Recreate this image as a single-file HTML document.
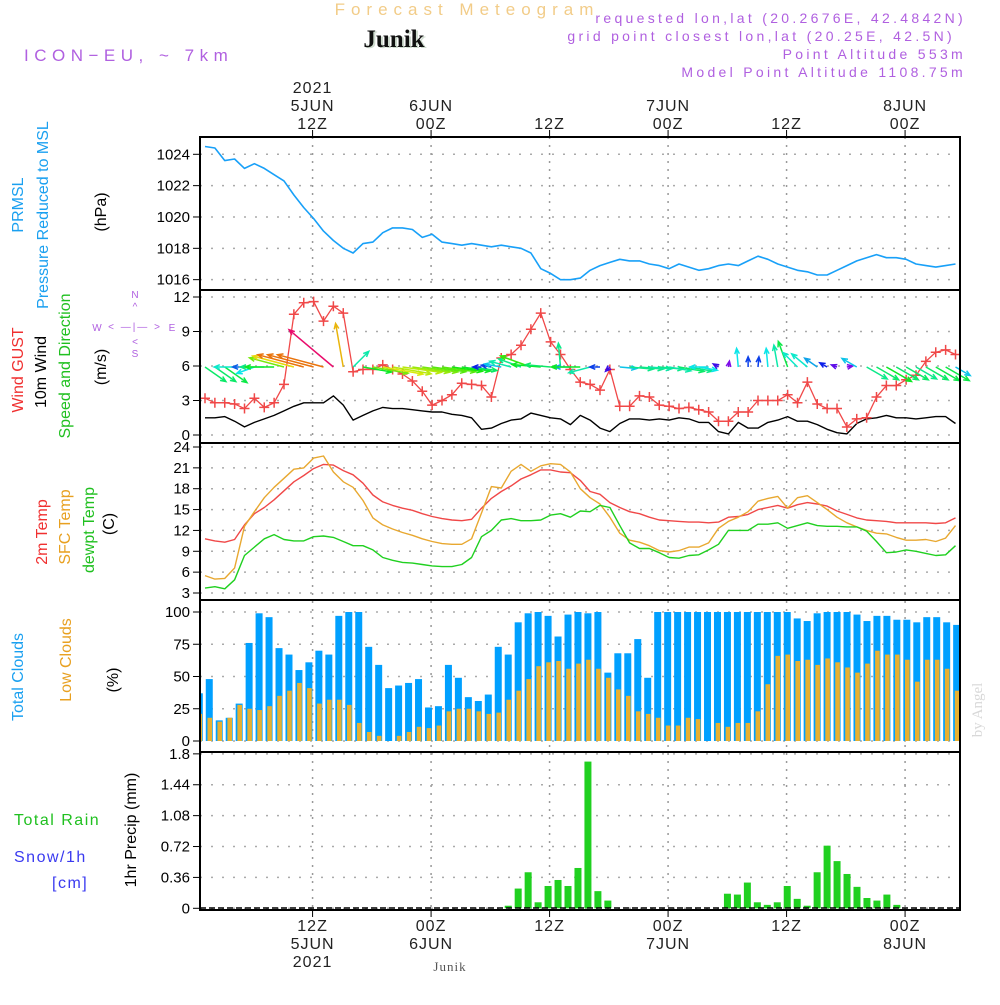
<!DOCTYPE html>
<html><head><meta charset="utf-8"><style>
html,body{margin:0;padding:0;background:#fff;}
svg text{font-family:"Liberation Sans",sans-serif;}
</style></head><body>
<svg id="chart" xmlns="http://www.w3.org/2000/svg" width="1000" height="1000" viewBox="0 0 1000 1000">
<rect x="0" y="0" width="1000" height="1000" fill="#fff"/>
<text x="467" y="15" text-anchor="middle" font-size="17" fill="#f2cc88" letter-spacing="6">Forecast Meteogram</text>
<text x="396" y="48" text-anchor="middle" font-size="25" font-weight="bold" fill="#cfdccf" style="font-family:'Liberation Serif',serif">Junik</text>
<text x="394" y="47" text-anchor="middle" font-size="25" font-weight="bold" fill="#111" style="font-family:'Liberation Serif',serif">Junik</text>
<text x="24" y="61" font-size="17" fill="#b060e0" letter-spacing="5.5">ICON−EU, ~ 7km</text>
<g font-size="14" fill="#b060e0" text-anchor="end" letter-spacing="3.3">
<text x="966" y="23">requested lon,lat (20.2676E, 42.4842N)</text>
<text x="955" y="41">grid point closest lon,lat (20.25E, 42.5N)</text>
<text x="966" y="59">Point Altitude 553m</text>
<text x="966" y="77">Model Point Altitude 1108.75m</text>
</g>
<g id="grid"></g>
<g id="marks"></g>
<g id="frames"></g>
<g id="labels"></g>
<g font-size="16">
<text transform="translate(23,205) rotate(-90)" text-anchor="middle" fill="#1aa0f0">PRMSL</text>
<text transform="translate(48,215) rotate(-90)" text-anchor="middle" fill="#1aa0f0">Pressure Reduced to MSL</text>
<text transform="translate(106,212) rotate(-90)" text-anchor="middle" fill="#000">(hPa)</text>
<text transform="translate(23,370) rotate(-90)" text-anchor="middle" fill="#f03030">Wind GUST</text>
<text transform="translate(46,372) rotate(-90)" text-anchor="middle" fill="#000">10m Wind</text>
<text transform="translate(70,366) rotate(-90)" text-anchor="middle" fill="#20c020">Speed and Direction</text>
<text transform="translate(106,367) rotate(-90)" text-anchor="middle" fill="#000">(m/s)</text>
<text transform="translate(47,532) rotate(-90)" text-anchor="middle" fill="#f03030">2m Temp</text>
<text transform="translate(70,527) rotate(-90)" text-anchor="middle" fill="#e8a020">SFC Temp</text>
<text transform="translate(94,530) rotate(-90)" text-anchor="middle" fill="#20c020">dewpt Temp</text>
<text transform="translate(114,524) rotate(-90)" text-anchor="middle" fill="#000">(C)</text>
<text transform="translate(23,677) rotate(-90)" text-anchor="middle" fill="#1aa0f0">Total Clouds</text>
<text transform="translate(71,660) rotate(-90)" text-anchor="middle" fill="#e8a020">Low Clouds</text>
<text transform="translate(118,680) rotate(-90)" text-anchor="middle" fill="#000">(%)</text>
<text x="14" y="825" fill="#20c020" letter-spacing="1.5">Total  Rain</text>
<text x="14" y="862" fill="#3a3af0" letter-spacing="1.5">Snow/1h</text>
<text x="52" y="888" fill="#3a3af0" letter-spacing="1.5">[cm]</text>
<text transform="translate(136,830) rotate(-90)" text-anchor="middle" fill="#000">1hr Precip (mm)</text>
</g>
<g font-size="10" fill="#b060e0" text-anchor="middle">
<text x="135" y="298">N</text><text x="135" y="310">^</text>
<text x="97" y="331">W</text><text x="135" y="330" letter-spacing="2">&lt; —|— &gt;</text>
<text x="172" y="331">E</text>
<text x="135" y="345">&lt;</text><text x="135" y="357">S</text>
</g>
<text transform="translate(982,710) rotate(-90)" text-anchor="middle" font-size="15" fill="#d8d8d8" style="font-family:'Liberation Serif',serif">by Angel</text>
<text x="450" y="971" text-anchor="middle" font-size="13" fill="#555" style="font-family:'Liberation Serif',serif" letter-spacing="1">Junik</text>
</svg>
<script>
// ---- data (hourly, starting 5JUN ~01Z) ----
var pressure=[1024.5,1024.4,1023.6,1023.7,1023.1,1023.4,1023.1,1022.7,1022.3,1021.4,
1020.6,1019.9,1019.1,1018.5,1018.0,1017.7,1018.3,1018.4,1019.0,1019.3,
1019.3,1019.2,1018.7,1018.9,1018.4,1018.3,1018.2,1018.3,1018.2,1018.1,
1018.2,1018.1,1018.0,1017.7,1016.7,1016.4,1016.0,1016.0,1016.1,1016.6,
1016.9,1017.1,1017.3,1017.2,1017.2,1017.0,1016.9,1016.7,1017.0,1016.8,
1016.6,1016.7,1016.9,1017.0,1016.9,1017.2,1017.5,1017.3,1017.0,1016.8,
1016.6,1016.5,1016.3,1016.3,1016.6,1016.9,1017.2,1017.4,1017.6,1017.4,
1017.4,1017.3,1017.0,1016.9,1016.8,1016.9,1017.0];
var windGust=[3.2,2.8,2.8,2.7,2.3,3.2,2.4,2.8,4.4,10.5,
11.5,11.6,9.9,11.2,10.6,5.5,5.7,5.7,6.1,5.7,
5.3,4.7,3.8,2.6,3.0,3.5,4.5,4.4,4.3,3.3,
6.7,7.0,7.8,9.2,10.6,8.1,7.0,5.7,4.6,4.4,
3.9,5.7,2.5,2.5,3.4,3.3,2.6,2.5,2.3,2.4,
2.2,2.0,1.2,1.2,2.0,2.0,3.0,3.0,3.0,3.5,
2.8,4.6,2.7,2.3,2.3,0.7,1.4,1.5,3.3,4.3,
4.3,4.8,5.2,6.4,7.2,7.4,7.0];
var wind10=[1.5,1.5,1.6,1.2,0.7,1.1,1.4,1.7,2.1,2.5,
2.8,2.8,2.8,3.4,2.6,1.3,1.7,2.1,2.4,2.3,
2.3,2.2,2.1,2.0,2.0,1.8,1.7,1.5,0.5,0.6,
1.0,1.3,1.4,1.9,1.7,1.5,1.4,0.9,1.7,1.3,
0.6,0.3,1.0,1.4,1.4,1.3,1.4,1.3,1.5,1.4,
1.1,1.1,0.3,0.1,1.1,0.6,0.6,1.1,1.3,1.6,
1.2,1.2,0.9,0.5,0.2,0.1,1.0,1.4,1.5,1.7,
1.5,1.5,1.4,1.5,1.6,1.6,1.0];
var windToDeg=[-35,-35,-35,180,180,200,180,180,165,165,
165,165,165,140,100,45,-10,-10,-10,-10,
-8,-8,-8,-8,-8,-8,-8,-8,180,170,
170,165,160,160,175,175,95,180,180,195,
180,225,-5,-5,-5,-5,-5,-10,-10,-10,
-10,180,150,80,95,90,85,95,100,110,
135,140,145,150,160,10,150,-30,-30,-30,
-30,-30,-30,-30,-30,-30,-30];
var temp2m=[10.8,10.5,10.3,10.7,12.8,14.4,15.3,16.4,17.7,19.0,
19.9,20.9,21.5,21.4,20.6,20.0,18.8,17.1,16.1,15.6,
15.2,14.9,14.4,14.0,13.7,13.5,13.4,13.6,15.2,16.6,
17.6,18.4,19.4,20.0,20.7,20.7,20.4,20.3,19.2,
17.6,17.2,16.0,15.3,14.7,14.4,13.9,13.5,13.4,13.3,
13.2,13.2,13.1,13.2,13.9,14.0,14.3,15.0,15.3,15.6,
15.2,15.7,16.0,15.8,15.5,14.8,14.3,13.8,13.5,13.4,
13.3,13.1,13.1,13.1,13.1,13.0,13.1,13.8];
var tempSfc=[5.5,5.0,5.1,6.6,12.6,14.7,16.7,18.2,19.5,20.8,
21.0,22.4,22.7,20.4,19.0,18.2,16.3,13.8,12.8,12.2,
11.7,11.3,10.8,10.4,10.1,10.0,10.0,10.8,14.5,18.3,
18.1,20.5,21.5,20.5,21.3,21.6,21.5,20.4,18.0,
16.7,15.8,13.9,11.6,10.6,10.3,9.8,9.1,8.9,9.1,
9.6,9.6,10.2,12.3,13.3,13.9,14.7,16.2,16.6,16.9,
15.2,16.7,17.0,16.0,15.0,13.9,13.1,12.5,12.0,11.6,
11.5,11.0,10.6,10.6,10.7,10.4,10.9,12.7];
var tempDew=[3.7,3.9,3.6,4.9,8.4,9.6,10.8,11.4,10.7,10.5,
10.5,11.1,11.2,11.0,10.4,9.8,9.8,9.2,8.1,7.7,
7.4,7.3,7.1,6.9,6.8,6.8,7.1,8.1,11.1,12.0,
13.5,13.7,13.4,13.4,13.5,14.2,14.4,13.9,14.8,
14.7,15.6,15.3,12.7,10.2,9.4,9.4,8.8,8.1,8.0,
8.4,8.5,9.2,10.0,12.0,12.0,12.0,12.9,12.9,13.1,
12.3,12.7,13.1,12.7,12.6,12.6,12.5,12.5,11.9,10.4,
8.8,8.9,9.2,9.0,8.7,8.4,8.5,9.8];
var totalClouds=[37,48,16,18,29,76,99,96,72,67,
55,61,70,67,97,100,100,73,59,41,
43,45,48,26,27,59,49,34,31,36,
73,67,92,99,100,97,81,98,100,
99,100,53,68,68,79,49,100,100,100,
100,100,100,100,100,100,100,100,100,100,
100,95,93,99,100,100,100,98,93,97,
97,94,94,92,96,96,92,90];
var lowClouds=[21,18,15,18,28,25,24,27,35,39,
45,41,29,32,32,28,14,7,4,0,
4,7,11,10,12,23,25,25,23,21,
22,32,39,48,58,61,62,56,60,
63,56,49,40,35,23,21,18,12,12,
18,17,0,14,11,14,14,23,44,66,
67,62,63,59,64,61,57,53,60,70,
67,67,63,46,63,63,56,39];
var precip=[0,0,0,0,0,0,0,0,0,0,
0,0,0,0,0,0,0,0,0,0,
0,0,0,0,0,0,0,0,0,0,
0,0.03,0.23,0.42,0.07,0.26,0.33,0.26,0.47,1.71,
0.20,0.09,0,0,0,0,0,0,0,0,
0,0,0,0.17,0.16,0.30,0.07,0.04,0.07,0.26,
0.11,0.03,0.42,0.73,0.55,0.40,0.25,0.12,0.09,0.16,
0.04,0,0,0,0,0,0];
var pressTicks=[1016,1018,1020,1022,1024];
var windTicks=[0,3,6,9,12];
var tempTicks=[3,6,9,12,15,18,21,24];
var cloudTicks=[0,25,50,75,100];
var precipTicks=["0","0.36","0.72","1.08","1.44","1.8"];
var timeTickHours=[11.4,23.4,35.4,47.4,59.4,71.4];
var topTimeLabels=[["2021","5JUN","12Z"],["","6JUN","00Z"],["","","12Z"],["","7JUN","00Z"],["","","12Z"],["","8JUN","00Z"]];
var bottomTimeLabels=[["12Z","5JUN","2021"],["00Z","6JUN",""],["12Z","",""],["00Z","7JUN",""],["12Z","",""],["00Z","8JUN",""]];

// ---- scales ----
var X0=200,X1=960;
function xLine(i){return 205+9.875*i;}
function xBar(i){return 199.3+9.965*i;}
function xHour(h){return 200+9.875*h;}
function yP(v){return 154.3+(1024-v)*15.67;}
function yW(v){return 435-v*11.5;}
function yT(v){return 447+(24-v)*6.952;}
function yC(v){return 741-v*1.29;}
function yR(v){return 908.3-v*85.8;}
var panels=[[137,290],[290,443],[443,600],[600,752],[752,910]];

var NS="http://www.w3.org/2000/svg";
function mk(tag,attrs,parent){var e=document.createElementNS(NS,tag);for(var k in attrs)e.setAttribute(k,attrs[k]);parent.appendChild(e);return e;}
var grid=document.getElementById('grid'),marks=document.getElementById('marks'),frames=document.getElementById('frames'),labels=document.getElementById('labels');

function hgrid(y,name){var l=mk('line',{x1:X0,x2:X1,y1:y,y2:y,stroke:'#aaa','stroke-width':1.5,'stroke-dasharray':'2,9'},grid);

}
pressTicks.forEach(function(v){hgrid(yP(v),'pressure-gridline');});
windTicks.forEach(function(v){hgrid(yW(v),'wind-gridline');});
tempTicks.forEach(function(v){hgrid(yT(v),'temp-gridline');});
cloudTicks.forEach(function(v){hgrid(yC(v),'cloud-gridline');});
precipTicks.forEach(function(v){hgrid(yR(+v),'precip-gridline');});
timeTickHours.forEach(function(h){var x=xHour(h);
 var l=mk('line',{x1:x,x2:x,y1:137,y2:910,stroke:'#999','stroke-width':1.5,'stroke-dasharray':'2,6'},grid);
 
 });

function ylabels(ticks,fn,name,fs){ticks.forEach(function(v){var y=fn(+v);
 var t=mk('text',{x:190,y:y+5,'text-anchor':'end','font-size':fs||15,fill:'#000'},labels);t.textContent=v;
 
 
 var tk=mk('line',{x1:193,x2:200,y1:y,y2:y,stroke:'#000','stroke-width':1},labels);
 
 });}
ylabels(pressTicks,yP,'pressure-tick');ylabels(windTicks,yW,'wind-tick');ylabels(tempTicks,yT,'temp-tick');
ylabels(cloudTicks,yC,'cloud-tick');ylabels(precipTicks,yR,'precip-tick');
timeTickHours.forEach(function(h,j){var x=xHour(h);
 topTimeLabels[j].forEach(function(s,r){if(!s)return;var t=mk('text',{x:x,y:93+r*18,'text-anchor':'middle','font-size':16,fill:'#222','letter-spacing':1},labels);t.textContent=s;
  
  });
 bottomTimeLabels[j].forEach(function(s,r){if(!s)return;var t=mk('text',{x:x,y:931+r*18,'text-anchor':'middle','font-size':16,fill:'#222','letter-spacing':1},labels);t.textContent=s;
  
  });
 var a=mk('line',{x1:x,x2:x,y1:130,y2:137,stroke:'#000'},labels);
 
 
 var b=mk('line',{x1:x,x2:x,y1:910,y2:917,stroke:'#000'},labels);
 
 });

function poly(arr,yfn,color,name,w){var pts=arr.map(function(v,i){return xLine(i).toFixed(1)+','+yfn(v).toFixed(1);}).join(' ');
 var p=mk('polyline',{points:pts,fill:'none',stroke:color,'stroke-width':w||1.4,'stroke-linejoin':'round'},marks);
 
 }

poly(pressure,yP,'#18a0f8','pressure-line',1.6);
poly(wind10,yW,'#000','wind10m-line',1.4);
poly(windGust,yW,'#f04848','wind-gust-line',1.3);
windGust.forEach(function(v,i){var x=xLine(i),y=yW(v);
 var c=mk('path',{d:'M'+(x-5)+','+y+'H'+(x+5)+'M'+x+','+(y-5)+'V'+(y+5),stroke:'#f04848','stroke-width':1.5},marks);
 
 });
wind10.forEach(function(s,i){var a=windToDeg[i]*Math.PI/180,L=Math.max(6,s*17);
 var x0=xLine(i),y0=367,x1=x0+L*Math.cos(a),y1=y0-L*Math.sin(a);
 var hue=(280-s*90+360)%360;var col='hsl('+hue+',90%,48%)';
 var h=6,a1=a+Math.PI-0.4,a2=a+Math.PI+0.4;
 var d='M'+x0+','+y0+'L'+x1.toFixed(1)+','+y1.toFixed(1)+'M'+(x1+h*Math.cos(a1)).toFixed(1)+','+(y1-h*Math.sin(a1)).toFixed(1)+'L'+x1.toFixed(1)+','+y1.toFixed(1)+'L'+(x1+h*Math.cos(a2)).toFixed(1)+','+(y1-h*Math.sin(a2)).toFixed(1);
 var p=mk('path',{d:d,stroke:col,'stroke-width':1.5,fill:'none'},marks);
 
 });
poly(temp2m,yT,'#f04848','temp-2m-line',1.4);
poly(tempSfc,yT,'#e8a830','temp-sfc-line',1.4);
poly(tempDew,yT,'#20d020','dewpoint-line',1.4);
totalClouds.forEach(function(v,i){var x=xBar(i);var x0=Math.max(X0,x-3.5),x1=Math.min(X1,x+3.5);if(x1<=x0)return;
 var r=mk('rect',{x:x0,y:yC(v),width:x1-x0,height:741-yC(v),fill:'#00a0ff'},marks);
 
 });
lowClouds.forEach(function(v,i){var x=xBar(i);var x0=Math.max(X0,x-1.8),x1=Math.min(X1,x+2.8);if(x1<=x0)return;
 var r=mk('rect',{x:x0,y:yC(v),width:x1-x0,height:741-yC(v),fill:'#e8b030'},marks);
 
 });
precip.forEach(function(v,i){if(v<=0)return;var x=xBar(i);
 var r=mk('rect',{x:x-3.5,y:yR(v),width:7,height:908.3-yR(v),fill:'#20d020'},marks);
 
 });
var sn=mk('line',{x1:X0,x2:X1,y1:908,y2:908,stroke:'#000','stroke-width':1.5,'stroke-dasharray':'6,3'},marks);



panels.forEach(function(p,j){var r=mk('rect',{x:X0,y:p[0],width:X1-X0,height:p[1]-p[0],fill:'none',stroke:'#000','stroke-width':2},frames);
 
 });
</script>
</body></html>
